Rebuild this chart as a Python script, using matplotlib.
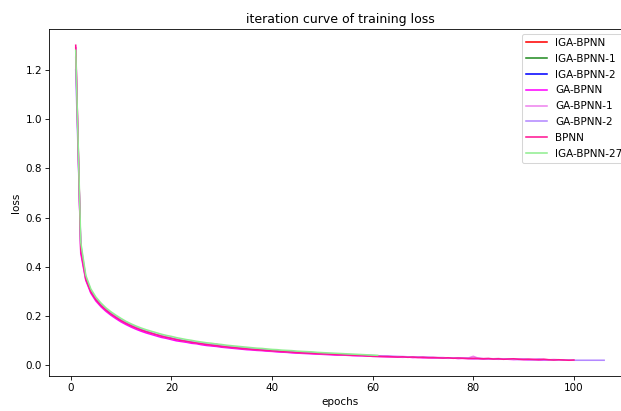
import matplotlib
matplotlib.use("Agg")
import matplotlib.pyplot as plt

# Loss per epoch for each network
iga_bpnn = []
iga_bpnn_1 = []
iga_bpnn_2 = []

ga_bpnn = [1.290, 0.455, 0.345, 0.293, 0.261, 0.238, 0.219, 0.203, 0.189, 0.176,
           0.165, 0.155, 0.146, 0.138, 0.131, 0.125, 0.119, 0.113, 0.109, 0.104,
           0.099, 0.096, 0.093, 0.089, 0.087, 0.083, 0.080, 0.078, 0.076, 0.073,
           0.071, 0.069, 0.067, 0.065, 0.063, 0.062, 0.060, 0.059, 0.057, 0.056,
           0.054, 0.053, 0.052, 0.050, 0.049, 0.048, 0.047, 0.046, 0.045, 0.044,
           0.043, 0.042, 0.041, 0.041, 0.040, 0.039, 0.038, 0.038, 0.037, 0.036,
           0.035, 0.035, 0.034, 0.034, 0.033, 0.032, 0.033, 0.031, 0.032, 0.030,
           0.031, 0.029, 0.030, 0.029, 0.028, 0.029, 0.027, 0.028, 0.027, 0.026,
           0.027, 0.025, 0.026, 0.025, 0.024, 0.025, 0.024, 0.023, 0.024, 0.023,
           0.022, 0.023, 0.022, 0.021, 0.022]

ga_bpnn_1 = [1.250, 0.480, 0.355, 0.302, 0.268, 0.244, 0.225, 0.209, 0.195, 0.182,
             0.171, 0.161, 0.152, 0.144, 0.137, 0.130, 0.124, 0.119, 0.114, 0.109,
             0.105, 0.101, 0.097, 0.094, 0.091, 0.088, 0.085, 0.082, 0.086, 0.077,
             0.075, 0.073, 0.071, 0.069, 0.067, 0.065, 0.064, 0.062, 0.060, 0.059,
             0.058, 0.056, 0.055, 0.054, 0.052, 0.051, 0.054, 0.049, 0.048, 0.047,
             0.046, 0.045, 0.044, 0.043, 0.042, 0.041, 0.040, 0.040, 0.039, 0.038,
             0.037, 0.037, 0.036, 0.035, 0.035, 0.034, 0.034, 0.033, 0.032, 0.033,
             0.032, 0.031, 0.030, 0.031, 0.029, 0.030, 0.029, 0.028, 0.029, 0.036,
             0.028, 0.027, 0.027, 0.026, 0.027, 0.025, 0.026, 0.025, 0.024, 0.025,
             0.024, 0.023, 0.026, 0.023, 0.022, 0.023, 0.022, 0.021]

ga_bpnn_2 = [1.200, 0.490, 0.358, 0.304, 0.270, 0.246, 0.227, 0.211, 0.197, 0.184,
             0.173, 0.163, 0.154, 0.146, 0.138, 0.132, 0.125, 0.120, 0.115, 0.110,
             0.106, 0.102, 0.098, 0.095, 0.092, 0.089, 0.086, 0.083, 0.080, 0.078,
             0.076, 0.074, 0.072, 0.070, 0.068, 0.066, 0.065, 0.063, 0.061, 0.060,
             0.059, 0.057, 0.056, 0.055, 0.053, 0.052, 0.051, 0.050, 0.049, 0.048,
             0.047, 0.046, 0.045, 0.044, 0.043, 0.042, 0.041, 0.041, 0.040, 0.039,
             0.038, 0.037, 0.037, 0.036, 0.035, 0.035, 0.034, 0.033, 0.033, 0.032,
             0.032, 0.031, 0.031, 0.030, 0.030, 0.029, 0.029, 0.028, 0.028, 0.027,
             0.027, 0.026, 0.026, 0.025, 0.025, 0.024, 0.025, 0.024, 0.023, 0.024,
             0.023, 0.022, 0.023, 0.022, 0.022, 0.021, 0.022, 0.021, 0.021, 0.020,
             0.020, 0.020, 0.020, 0.020, 0.020, 0.020]

bpnn = [1.300, 0.468, 0.350, 0.298, 0.266, 0.243, 0.224, 0.208, 0.194, 0.181,
        0.170, 0.160, 0.151, 0.143, 0.136, 0.130, 0.124, 0.118, 0.113, 0.109,
        0.104, 0.100, 0.097, 0.093, 0.090, 0.087, 0.084, 0.081, 0.079, 0.076,
        0.074, 0.072, 0.070, 0.068, 0.066, 0.064, 0.063, 0.061, 0.060, 0.058,
        0.057, 0.055, 0.054, 0.053, 0.051, 0.050, 0.049, 0.048, 0.047, 0.046,
        0.045, 0.044, 0.043, 0.042, 0.041, 0.040, 0.040, 0.039, 0.037, 0.036,
        0.036, 0.035, 0.035, 0.034, 0.033, 0.034, 0.032, 0.033, 0.031, 0.032,
        0.030, 0.031, 0.030, 0.029, 0.030, 0.028, 0.029, 0.028, 0.027, 0.028,
        0.027, 0.026, 0.027, 0.025, 0.026, 0.024, 0.025, 0.026, 0.024, 0.023,
        0.024, 0.023, 0.022, 0.024, 0.022, 0.021, 0.022, 0.021, 0.020, 0.021]

iga_bpnn_27 = [1.280, 0.500, 0.365, 0.310, 0.277, 0.253, 0.233, 0.217, 0.203, 0.190,
               0.178, 0.168, 0.159, 0.151, 0.144, 0.138, 0.132, 0.126, 0.121, 0.117,
               0.112, 0.108, 0.104, 0.101, 0.097, 0.094, 0.091, 0.089, 0.086, 0.084,
               0.081, 0.079, 0.077, 0.075, 0.073, 0.071, 0.069, 0.068, 0.066, 0.064,
               0.063, 0.061, 0.060, 0.059, 0.057, 0.056, 0.055, 0.054, 0.052, 0.051,
               0.050, 0.049, 0.048, 0.047, 0.046, 0.045, 0.044, 0.043, 0.042, 0.041,
               0.040]

series = [
    ("IGA-BPNN", iga_bpnn, "#ff0000"),
    ("IGA-BPNN-1", iga_bpnn_1, "#228b22"),
    ("IGA-BPNN-2", iga_bpnn_2, "#0000ff"),
    ("GA-BPNN", ga_bpnn, "#ff00ff"),
    ("GA-BPNN-1", ga_bpnn_1, "#ee82ee"),
    ("GA-BPNN-2", ga_bpnn_2, "#b388ff"),
    ("BPNN", bpnn, "#ff1493"),
    ("IGA-BPNN-27", iga_bpnn_27, "#90ee90"),
]

DPI = 75
fig = plt.figure(figsize=(621 / DPI, 411 / DPI), dpi=DPI)
ax = fig.add_axes([49.3 / 621, 35 / 411, 581.25 / 621, 346.5 / 411])

for name, values, color in series:
    epochs = list(range(1, len(values) + 1))
    ax.plot(epochs, values, color=color, label=name, linewidth=1.5)

ax.set_title("iteration curve of training loss")
ax.set_xlabel("epochs")
ax.set_ylabel("loss")
ax.legend(loc="upper right", borderaxespad=0.4, labelspacing=0.56)

fig.savefig("out.png", dpi=DPI)
